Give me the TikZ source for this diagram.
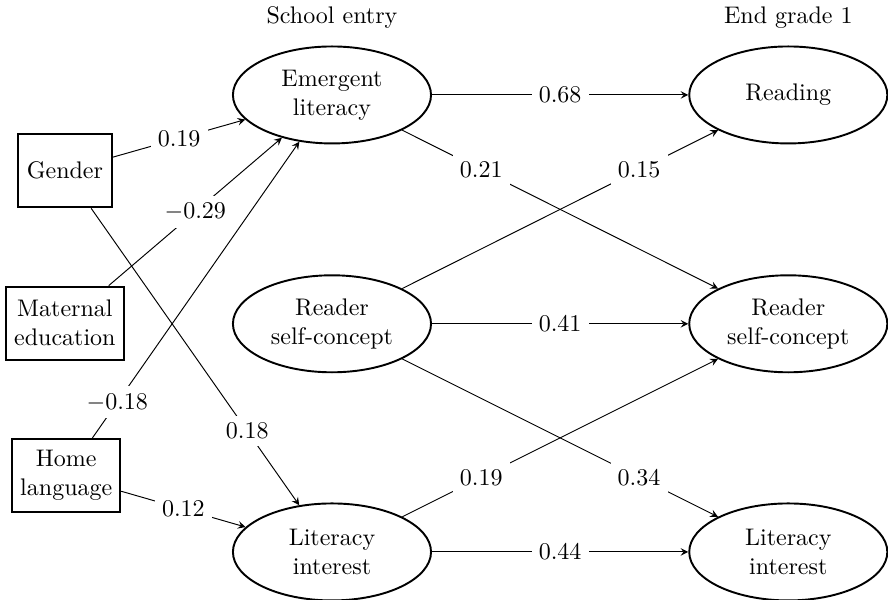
\documentclass[tikz,border=0pt]{standalone}
\usepackage{tikz}
\usetikzlibrary{shapes,arrows,positioning}

\begin{document}
\begin{tikzpicture}[
    latent/.style={ellipse, draw, thick, minimum width=2.9cm, minimum height=1.42cm, inner sep=1pt, align=center},
    observed/.style={rectangle, draw, thick, minimum width=1.38cm, minimum height=1.07cm, align=center},
    coef/.style={fill=white, inner sep=3pt},
    arrow/.style={->, >=stealth},
    header/.style={align=center},
]
    \useasboundingbox (0,0) rectangle (13,-8.77);

    % Time points
    \node[header] (entry) at (4.86,-0.26) {School entry};
    \node[header] (grade1) at (11.54,-0.26) {End grade 1};

    % Background variables
    \node[observed] (gender) at (0.95,-2.5) {Gender};
    \node[observed] (mated) at (0.95,-4.73) {Maternal\\education};
    \node[observed] (homelang) at (0.97,-6.96) {Home\\language};

    % School entry
    \node[latent] (emlit) at (4.86,-1.39) {Emergent\\literacy};
    \node[latent] (selfA) at (4.86,-4.74) {Reader\\self-concept};
    \node[latent] (interA) at (4.86,-8.08) {Literacy\\interest};

    % End grade 1
    \node[latent] (reading) at (11.54,-1.39) {Reading};
    \node[latent] (selfB) at (11.54,-4.74) {Reader\\self-concept};
    \node[latent] (interB) at (11.54,-8.08) {Literacy\\interest};

    % Background paths
    \draw[arrow] (gender) -- node[coef] {0.19} (emlit);
    \draw[arrow] (mated) -- node[coef] {$-0.29$} (emlit);
    \draw[arrow] (homelang) -- node[coef, pos=0.12] {$-0.18$} (emlit);
    \draw[arrow] (gender) -- node[coef, pos=0.75] {0.18} (interA);
    \draw[arrow] (homelang) -- node[coef] {0.12} (interA);

    % Paths to end grade 1
    \draw[arrow] (emlit) -- node[coef] {0.68} (reading);
    \draw[arrow] (emlit) -- node[coef, pos=0.25] {0.21} (selfB);
    \draw[arrow] (selfA) -- node[coef, pos=0.75] {0.15} (reading);
    \draw[arrow] (selfA) -- node[coef] {0.41} (selfB);
    \draw[arrow] (selfA) -- node[coef, pos=0.75] {0.34} (interB);
    \draw[arrow] (interA) -- node[coef, pos=0.25] {0.19} (selfB);
    \draw[arrow] (interA) -- node[coef] {0.44} (interB);
\end{tikzpicture}
\end{document}
